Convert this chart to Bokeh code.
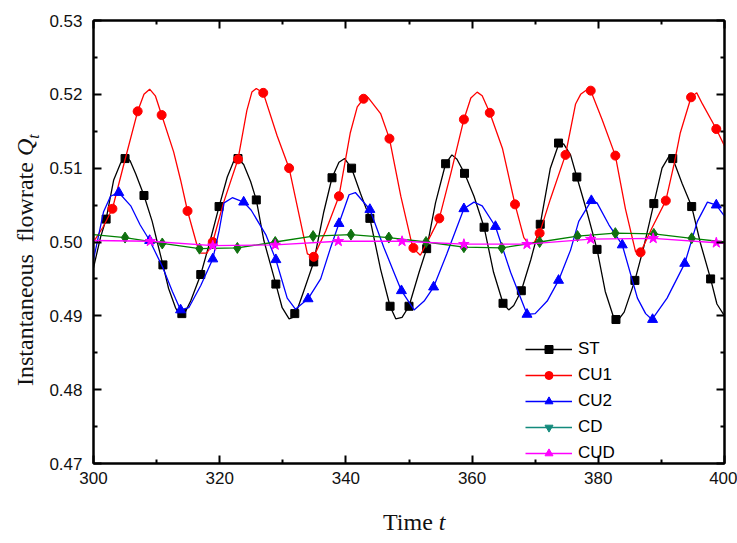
import math
from bokeh.plotting import figure
from bokeh.models import (LinearAxis, FixedTicker, NumeralTickFormatter, Legend, LegendItem,
                          Range1d, CustomJSTickFormatter, Div)
from bokeh.layouts import row, column
from bokeh.embed import file_html
from bokeh.resources import INLINE

# ---------------- data ----------------
x_ticks = [300, 320, 340, 360, 380, 400]
x_minor = [310, 330, 350, 370, 390]
y_ticks = [0.47, 0.48, 0.49, 0.50, 0.51, 0.52, 0.53]
y_minor = [0.475, 0.485, 0.495, 0.505, 0.515, 0.525]

series_names = ["ST", "CU1", "CU2", "CD", "CUD"]

st_t = [300.0, 301.1, 302.0, 303.2, 304.3, 305.2, 305.8, 306.7, 308.0, 309.3, 310.1, 311.0, 311.9,
        313.0, 313.7, 314.3, 315.4, 317.0, 318.5, 319.9, 321.2, 322.2, 322.9, 323.8, 324.9, 325.8,
        327.0, 328.9, 329.9, 331.0, 331.9, 333.3, 334.9, 336.5, 337.8, 338.9, 339.8, 340.9, 342.3,
        343.8, 345.5, 347.0, 347.9, 348.9, 350.0, 351.6, 352.8, 354.2, 355.8, 356.8, 357.6, 358.8,
        360.3, 361.9, 363.4, 364.9, 365.8, 366.6, 367.8, 369.3, 370.8, 372.4, 373.7, 374.5, 375.6,
        376.6, 378.2, 379.8, 381.1, 382.5, 383.2, 384.1, 385.8, 387.2, 388.8, 390.1, 391.2, 391.8,
        393.3, 394.8, 396.2, 397.8, 398.8, 400.0]
st_q = [0.4965, 0.5006, 0.5031, 0.5084, 0.5107, 0.5115, 0.5110, 0.5092, 0.5063, 0.5028, 0.5000,
        0.4969, 0.4937, 0.4911, 0.4900, 0.4901, 0.4920, 0.4956, 0.5002, 0.5048, 0.5088, 0.5109,
        0.5113, 0.5105, 0.5082, 0.5057, 0.5002, 0.4943, 0.4911, 0.4896, 0.4899, 0.4933, 0.4973,
        0.5041, 0.5087, 0.5108, 0.5113, 0.5100, 0.5066, 0.5032, 0.4963, 0.4913, 0.4896, 0.4898,
        0.4913, 0.4959, 0.4991, 0.5053, 0.5106, 0.5118, 0.5112, 0.5093, 0.5062, 0.5020, 0.4959,
        0.4917, 0.4908, 0.4914, 0.4934, 0.4976, 0.5024, 0.5100, 0.5132, 0.5133, 0.5118, 0.5088,
        0.5041, 0.4990, 0.4933, 0.4896, 0.4895, 0.4905, 0.4948, 0.4993, 0.5052, 0.5100, 0.5116,
        0.5113, 0.5079, 0.5048, 0.4998, 0.4950, 0.4916, 0.4900]
st_mt = [302.0, 305.0, 308.0, 311.0, 314.0, 317.0, 319.9, 322.9, 325.8, 328.9, 331.9, 334.9, 337.8,
         340.9, 343.8, 347.0, 350.0, 352.8, 355.8, 358.8, 361.9, 364.9, 367.8, 370.8, 373.7, 376.6,
         379.8, 382.8, 385.8, 388.8, 391.8, 394.8, 397.8]
st_mq = [0.5031, 0.5113, 0.5063, 0.4969, 0.4903, 0.4956, 0.5048, 0.5113, 0.5057, 0.4943, 0.4903,
         0.4973, 0.5087, 0.5100, 0.5032, 0.4913, 0.4913, 0.4991, 0.5106, 0.5093, 0.5020, 0.4917,
         0.4934, 0.5024, 0.5134, 0.5088, 0.4990, 0.4895, 0.4948, 0.5052, 0.5113, 0.5048, 0.4950]

cu1_t = [300.0, 301.5, 303.0, 304.8, 307.0, 308.0, 308.9, 309.8, 310.8, 312.7, 313.8, 314.9, 316.4,
         317.0, 318.0, 318.9, 320.6, 322.9, 324.3, 325.1, 325.8, 326.9, 329.1, 331.0, 332.8, 333.9,
         334.9, 336.8, 338.9, 340.7, 341.8, 342.8, 343.5, 345.5, 346.9, 348.7, 350.6, 351.8, 353.5,
         354.8, 356.6, 358.7, 359.8, 360.8, 361.6, 362.8, 364.8, 366.8, 368.2, 369.0, 369.8, 370.7,
         372.4, 374.8, 376.4, 377.2, 378.3, 378.8, 380.6, 382.7, 384.3, 385.9, 386.7, 388.5, 390.7,
         392.0, 393.0, 394.7, 395.6, 396.5, 398.7, 400.0]
cu1_q = [0.5000, 0.5020, 0.5045, 0.5105, 0.5177, 0.5200, 0.5207, 0.5198, 0.5172, 0.5122, 0.5084,
         0.5042, 0.4996, 0.4985, 0.4985, 0.5000, 0.5053, 0.5112, 0.5178, 0.5203, 0.5208, 0.5202,
         0.5144, 0.5100, 0.5028, 0.4984, 0.4980, 0.5015, 0.5062, 0.5148, 0.5183, 0.5194, 0.5196,
         0.5174, 0.5140, 0.5062, 0.4992, 0.4982, 0.5010, 0.5032, 0.5092, 0.5166, 0.5195, 0.5203,
         0.5198, 0.5175, 0.5127, 0.5051, 0.5006, 0.4997, 0.4999, 0.5012, 0.5058, 0.5118, 0.5187,
         0.5200, 0.5207, 0.5205, 0.5166, 0.5117, 0.5045, 0.4987, 0.4986, 0.5019, 0.5056, 0.5105,
         0.5148, 0.5196, 0.5202, 0.5187, 0.5153, 0.5130]
cu1_mt = [303.0, 307.0, 310.8, 314.9, 318.9, 322.9, 326.9, 331.0, 334.9, 338.9, 342.8, 346.9, 350.7,
          354.8, 358.7, 362.8, 366.8, 370.7, 374.8, 378.8, 382.7, 386.7, 390.7, 394.7, 398.7]
cu1_mq = [0.5045, 0.5177, 0.5172, 0.5042, 0.5000, 0.5112, 0.5202, 0.5100, 0.4980, 0.5062, 0.5194,
          0.5140, 0.4992, 0.5032, 0.5166, 0.5175, 0.5051, 0.5012, 0.5118, 0.5205, 0.5117, 0.4986,
          0.5056, 0.5196, 0.5153]

cu2_t = [300.0, 301.6, 302.7, 304.0, 305.9, 307.4, 308.9, 310.9, 312.5, 313.8, 315.1, 317.0, 318.9,
         319.9, 320.7, 322.0, 323.8, 325.0, 327.3, 328.9, 330.7, 332.0, 334.0, 336.0, 337.6, 338.9,
         340.5, 341.5, 343.8, 346.0, 347.6, 348.8, 350.8, 352.4, 353.9, 356.0, 358.7, 360.3, 361.6,
         363.7, 366.1, 368.7, 370.0, 371.9, 373.7, 375.6, 376.9, 378.9, 379.8, 381.7, 383.8, 386.2,
         387.5, 388.5, 390.9, 393.7, 395.7, 397.3, 398.7, 400.0]
cu2_q = [0.4976, 0.5041, 0.5062, 0.5067, 0.5049, 0.5023, 0.5002, 0.4967, 0.4933, 0.4908, 0.4911,
         0.4941, 0.4977, 0.5015, 0.5053, 0.5060, 0.5054, 0.5043, 0.5010, 0.4976, 0.4924, 0.4909,
         0.4923, 0.4950, 0.4993, 0.5025, 0.5064, 0.5067, 0.5044, 0.4993, 0.4959, 0.4934, 0.4908,
         0.4920, 0.4939, 0.4984, 0.5045, 0.5054, 0.5049, 0.5021, 0.4959, 0.4902, 0.4903, 0.4920,
         0.4948, 0.4989, 0.5028, 0.5056, 0.5053, 0.5023, 0.4996, 0.4924, 0.4903, 0.4895, 0.4924,
         0.4971, 0.5028, 0.5054, 0.5050, 0.5035]
cu2_mt = [304.0, 308.9, 313.8, 318.9, 323.8, 328.9, 334.0, 338.9, 343.8, 348.8, 353.9, 358.7, 363.7,
          368.7, 373.7, 378.9, 383.8, 388.6, 393.7, 398.7]
cu2_mq = [0.5067, 0.5002, 0.4908, 0.4977, 0.5054, 0.4976, 0.4923, 0.5025, 0.5044, 0.4934, 0.4939,
          0.5045, 0.5021, 0.4902, 0.4948, 0.5056, 0.4996, 0.4895, 0.4971, 0.5050]

cd_t = [300.0, 305.0, 310.9, 316.8, 322.8, 328.8, 334.8, 340.8, 346.8, 352.7, 358.7, 364.7, 370.7,
        376.7, 382.7, 388.8, 394.8, 400.0]
cd_q = [0.5010, 0.5006, 0.4998, 0.4991, 0.4992, 0.5000, 0.5008, 0.5010, 0.5006, 0.5000, 0.4993,
        0.4992, 0.5000, 0.5008, 0.5012, 0.5011, 0.5005, 0.5000]
cd_mt = cd_t[1:-1]
cd_mq = cd_q[1:-1]

cud_t = [300.0, 309.0, 318.9, 328.8, 338.8, 348.9, 358.7, 368.7, 378.8, 388.7, 398.7, 400.0]
cud_q = [0.5002, 0.5001, 0.4995, 0.4996, 0.5001, 0.5001, 0.4997, 0.4997, 0.5004, 0.5005, 0.4999,
         0.4998]
cud_mt = cud_t[1:-1]
cud_mq = cud_q[1:-1]

x_title = "Time"
x_title_var = "t"
y_title = "Instantaneous&nbsp; flowrate"
y_title_var = "Q"
y_title_sub = "t"

# ---------------- figure ----------------
TICK_FONT = "Liberation Sans"
TITLE_FONT = "Liberation Serif"

YDIV_W = 44
P_W, P_H = 693, 493
XDIV_H = 50

p = figure(width=P_W, height=P_H, output_backend="svg", toolbar_location=None,
           x_range=Range1d(300, 400), y_range=Range1d(0.47, 0.53),
           min_border_left=49, min_border_right=13, min_border_top=20, min_border_bottom=30,
           background_fill_color="white", border_fill_color="white")
p.grid.visible = False
p.outline_line_color = "black"
p.outline_line_width = 2


def style_axis(ax, ticks, minor, show_labels):
    ax.ticker = FixedTicker(ticks=ticks, minor_ticks=minor)
    ax.axis_line_width = 2
    ax.axis_line_color = "black"
    ax.major_tick_in = 8
    ax.major_tick_out = 0
    ax.minor_tick_in = 4
    ax.minor_tick_out = 0
    ax.major_tick_line_width = 2
    ax.minor_tick_line_width = 2
    ax.major_tick_line_color = "black"
    ax.minor_tick_line_color = "black"
    if show_labels:
        ax.major_label_text_font = TICK_FONT
        ax.major_label_text_font_size = "17px"
        ax.major_label_text_color = "#111111"
    else:
        ax.formatter = CustomJSTickFormatter(code="return ''")
        ax.major_label_text_font_size = "0px"
        ax.major_label_standoff = 0


xb = p.xaxis[0]
style_axis(xb, x_ticks, x_minor, True)
xb.major_label_standoff = 8
yl = p.yaxis[0]
style_axis(yl, y_ticks, y_minor, True)
yl.formatter = NumeralTickFormatter(format="0.00")
yl.major_label_standoff = 11

xt = LinearAxis()
style_axis(xt, x_ticks, x_minor, False)
p.add_layout(xt, "above")
yr = LinearAxis()
style_axis(yr, y_ticks, y_minor, False)
p.add_layout(yr, "right")

# ---------------- series ----------------
LW = 1.3
p.line(st_t, st_q, line_color="black", line_width=LW)
p.scatter(st_mt, st_mq, marker="square", size=8, color="black")

p.line(cu1_t, cu1_q, line_color="#ff0000", line_width=LW)
p.scatter(cu1_mt, cu1_mq, marker="circle", size=9, color="#ff0000")

p.line(cu2_t, cu2_q, line_color="#0000ff", line_width=LW)
p.scatter(cu2_mt, cu2_mq, marker="triangle", size=10, color="#0000ff")

p.line(cd_t, cd_q, line_color="#008000", line_width=LW)
p.scatter(cd_mt, cd_mq, marker="diamond", size=11, color="#107010")

p.line(cud_t, cud_q, line_color="#ff00ff", line_width=LW)
p.scatter(cud_mt, cud_mq, marker="star", size=11, color="#ff00ff")

# legend glyphs: hidden renderers (same data) that only serve the legend
legend_style = [("black", "square", 6, 0.0), ("#ff0000", "circle", 7, 0.0),
                ("#0000ff", "triangle", 8, 0.0), ("#138a7c", "inverted_triangle", 8, 0.0),
                ("#ff00ff", "triangle", 8, math.pi / 2)]
legend_data = [(st_mt, st_mq), (cu1_mt, cu1_mq), (cu2_mt, cu2_mq), (cd_mt, cd_mq), (cud_mt, cud_mq)]
items = []
for name, (col, mk, sz, ang), (dx, dy) in zip(series_names, legend_style, legend_data):
    lr = p.line(dx, dy, line_color=col, line_width=LW, visible=False)
    sr = p.scatter(dx, dy, marker=mk, size=sz, angle=ang, color=col, visible=False)
    items.append(LegendItem(label=name, renderers=[lr, sr]))

legend = Legend(items=items, location=(432, 0), orientation="vertical",
                border_line_alpha=0, background_fill_alpha=0, padding=0, margin=0,
                spacing=6, glyph_width=47, glyph_height=20, label_height=20,
                label_standoff=6, label_text_font=TICK_FONT, label_text_font_size="17px",
                label_text_color="black")
p.add_layout(legend)

# ---------------- axis titles (HTML text, italic variables) ----------------
ydiv = Div(width=YDIV_W, height=P_H, margin=0, text=(
    f'<div style="position:relative;width:{YDIV_W}px;height:{P_H}px;">'
    f'<div style="position:absolute;left:13px;top:386px;transform-origin:0 0;'
    f'transform:rotate(-90deg);white-space:nowrap;font-family:\'{TITLE_FONT}\';'
    f'font-size:24px;line-height:24px;color:#111;">'
    f'{y_title} <i>{y_title_var}</i><sub style="font-size:16px;line-height:0;">'
    f'<i>{y_title_sub}</i></sub></div></div>'))

xdiv = Div(width=P_W, height=XDIV_H, margin=0, text=(
    f'<div style="position:relative;width:{P_W}px;height:{XDIV_H}px;">'
    f'<div style="position:absolute;left:339px;top:17px;white-space:nowrap;'
    f'font-family:\'{TITLE_FONT}\';font-size:24px;line-height:24px;color:#111;">'
    f'{x_title} <i>{x_title_var}</i></div></div>'))

layout = row(ydiv, column(p, xdiv, spacing=0), spacing=0)

open("out.html", "w").write(file_html(layout, INLINE))
